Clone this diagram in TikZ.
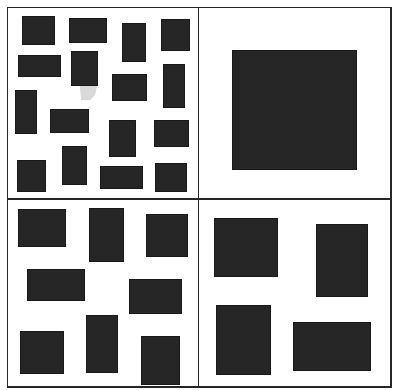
\documentclass[tikz,border=0pt]{standalone}
\begin{document}
\begin{tikzpicture}[x=1pt,y=-1pt,
  blk/.style={fill=black!85,draw=black!90,line width=0.6pt},
  frame/.style={draw=black!85,line width=1.6pt}]
\useasboundingbox (0,0) rectangle (401,389);
\fill[white] (0,0) rectangle (401,389);
% top-left quadrant
\path[blk] (22.7,16) rectangle (54.3,44.3);
\path[blk] (69,18.3) rectangle (106.7,42.3);
\path[blk] (122.3,23.3) rectangle (145.7,61.7);
\path[blk] (161,19) rectangle (189,50.7);
\path[blk] (18.3,55) rectangle (60.7,76.7);
\path[blk] (71.7,51.7) rectangle (97.3,85);
\path[blk] (112.3,74.7) rectangle (146.7,100);
\path[blk] (163.3,64.3) rectangle (184,107.3);
\path[blk] (15,90) rectangle (36.7,133.3);
\path[blk] (50.7,109) rectangle (88.3,132.7);
\path[blk] (109,120.7) rectangle (135,156);
\path[blk] (154,120.7) rectangle (188.3,146.7);
\path[blk] (17.3,160) rectangle (45.7,191.7);
\path[blk] (62.3,146.7) rectangle (86,184.3);
\path[blk] (100,166.7) rectangle (142.7,188.3);
\path[blk] (155,163.3) rectangle (186.7,191.7);
\fill[black!15] (80,86) -- (97,86) -- (95,95) -- (90,100) -- (81,100) -- cycle;
% top-right quadrant
\path[blk] (232.7,50) rectangle (356,169.3);
% bottom-left quadrant
\path[blk] (18.3,209.3) rectangle (65,246.7);
\path[blk] (89.3,208.3) rectangle (123.3,261);
\path[blk] (146.7,214) rectangle (187.7,256);
\path[blk] (27.3,269.3) rectangle (84,300);
\path[blk] (129,279.3) rectangle (181.7,313.3);
\path[blk] (20.7,331.7) rectangle (63.3,373.3);
\path[blk] (86,315.7) rectangle (117.3,372.7);
\path[blk] (141.7,336.7) rectangle (179.3,384.3);
% bottom-right quadrant
\path[blk] (214.3,218.3) rectangle (277.7,276);
\path[blk] (316.7,224) rectangle (367.7,296);
\path[blk] (216.7,305) rectangle (270,374);
\path[blk] (293.3,322.7) rectangle (370.7,370);
% frame
\draw[frame] (7.5,7.5) rectangle (391,387);
\draw[frame] (198.5,7.5) -- (198.5,387);
\draw[frame] (7.5,199) -- (391,199);
\end{tikzpicture}
\end{document}
